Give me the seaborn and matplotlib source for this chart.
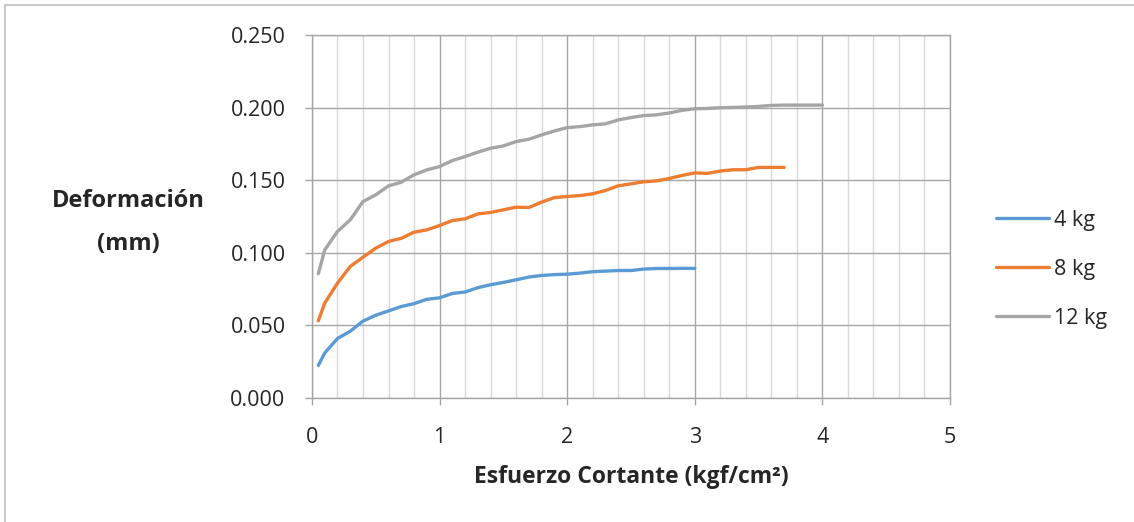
import numpy as np
import pandas as pd
import seaborn as sns
import matplotlib.pyplot as plt
from matplotlib.lines import Line2D
from matplotlib.ticker import MultipleLocator

# Esfuerzo cortante (kgf/cm2) for each load
x_4kg = [0.05, 0.1, 0.2, 0.3, 0.4, 0.5, 0.6, 0.7, 0.8, 0.9, 1.0, 1.1, 1.2, 1.3, 1.4, 1.5,
         1.6, 1.7, 1.8, 1.9, 2.0, 2.1, 2.2, 2.3, 2.4, 2.5, 2.6, 2.7, 2.8, 2.9, 3.0]
y_4kg = [0.0225, 0.031, 0.041, 0.046, 0.053, 0.057, 0.060, 0.063, 0.065, 0.068, 0.069,
         0.072, 0.073, 0.076, 0.078, 0.0796, 0.0814, 0.0833, 0.0844, 0.085, 0.0853, 0.086,
         0.087, 0.0874, 0.0878, 0.0878, 0.0888, 0.0892, 0.0892, 0.0893, 0.0893]

x_8kg = [0.05, 0.1, 0.2, 0.3, 0.4, 0.5, 0.6, 0.7, 0.8, 0.9, 1.0, 1.1, 1.2, 1.3, 1.4, 1.5,
         1.6, 1.7, 1.8, 1.9, 2.0, 2.1, 2.2, 2.3, 2.4, 2.5, 2.6, 2.7, 2.8, 2.9, 3.0, 3.1,
         3.2, 3.3, 3.4, 3.5, 3.6, 3.7]
y_8kg = [0.0532, 0.0654, 0.0791, 0.0906, 0.097, 0.1032, 0.1078, 0.110, 0.1142, 0.1158,
         0.1188, 0.1222, 0.1234, 0.1268, 0.1278, 0.1296, 0.1314, 0.1312, 0.1349, 0.138,
         0.1388, 0.1394, 0.1406, 0.1429, 0.1461, 0.1475, 0.1489, 0.1495, 0.1512, 0.1533,
         0.155, 0.1547, 0.1563, 0.1572, 0.1572, 0.1588, 0.1588, 0.1588]

x_12kg = [0.05, 0.1, 0.2, 0.3, 0.4, 0.5, 0.6, 0.7, 0.8, 0.9, 1.0, 1.1, 1.2, 1.3, 1.4, 1.5,
          1.6, 1.7, 1.8, 1.9, 2.0, 2.1, 2.2, 2.3, 2.4, 2.5, 2.6, 2.7, 2.8, 2.9, 3.0, 3.1,
          3.2, 3.3, 3.4, 3.5, 3.6, 3.7, 3.8, 3.9, 4.0]
y_12kg = [0.0856, 0.102, 0.1147, 0.1227, 0.1353, 0.1399, 0.1461, 0.1486, 0.1537, 0.1571,
          0.1594, 0.1635, 0.1663, 0.1693, 0.172, 0.1736, 0.1766, 0.1782, 0.1812, 0.1839,
          0.1862, 0.1869, 0.1881, 0.1888, 0.1915, 0.1931, 0.1945, 0.195, 0.1963, 0.1981,
          0.1992, 0.1994, 0.1999, 0.2001, 0.2004, 0.2008, 0.2015, 0.2017, 0.2017, 0.2017,
          0.2017]

labels = ["4 kg", "8 kg", "12 kg"]
colors = ["#5B9BD5", "#ED7D31", "#A5A5A5"]

frames = []
for lab, xs, ys in zip(labels, [x_4kg, x_8kg, x_12kg], [y_4kg, y_8kg, y_12kg]):
    frames.append(pd.DataFrame({"x": xs, "y": ys, "Carga": lab}))
df = pd.concat(frames, ignore_index=True)

sns.set_style("white")
plt.rcParams["font.family"] = ["Open Sans", "DejaVu Sans"]

fig = plt.figure(figsize=(11.34, 5.22), dpi=100)
ax = fig.add_axes([0.2751, 0.2375, 0.8377 - 0.2751, 0.933 - 0.2375])

sns.lineplot(data=df, x="x", y="y", hue="Carga", palette=colors, linewidth=2.4,
             sort=False, estimator=None, ax=ax, legend=False)

ax.set_xlim(0, 5)
ax.set_ylim(0, 0.25)
ax.xaxis.set_major_locator(MultipleLocator(1))
ax.xaxis.set_minor_locator(MultipleLocator(0.2))
ax.yaxis.set_major_locator(MultipleLocator(0.05))
ax.yaxis.set_major_formatter(plt.FuncFormatter(lambda v, p: f"{v:.3f}"))

ax.grid(which="major", color="#a6a6a6", linewidth=1.0)
ax.grid(which="minor", axis="x", color="#d9d9d9", linewidth=1.0)
ax.set_axisbelow(True)
for s in ax.spines.values():
    s.set_color("#a6a6a6")
    s.set_linewidth(1.0)

ax.tick_params(axis="both", which="major", length=5, width=1, color="#a6a6a6",
               labelsize=15.5, direction="out", bottom=True, left=True)
ax.tick_params(axis="y", which="major", pad=14)
ax.tick_params(axis="x", which="major", pad=16)
ax.tick_params(axis="x", which="minor", length=0)

ax.set_xlabel("Esfuerzo Cortante (kgf/cm²)", fontsize=16.5, fontweight="bold", labelpad=12)
ax.set_ylabel("")
fig.text(0.113, 0.574, "Deformación\n(mm)", fontsize=17, fontweight="bold",
         ha="center", va="center", linespacing=2.05)

handles = [Line2D([], [], color=c, linewidth=2.4) for c in colors]
fig.legend(handles, labels, loc="center left", bbox_to_anchor=(0.8785, 0.484),
           frameon=False, fontsize=15.5, handlelength=2.45, handletextpad=0.25,
           labelspacing=1.3, borderpad=0.0, borderaxespad=0.0)

# chart area border (left and top edges visible)
fig.add_artist(Line2D([0.0045, 0.0045], [0, 0.99], transform=fig.transFigure,
                      color="#bfbfbf", linewidth=1.2))
fig.add_artist(Line2D([0.0045, 1.0], [0.99, 0.99], transform=fig.transFigure,
                      color="#bfbfbf", linewidth=1.2))

fig.savefig("out.png", dpi=100)
